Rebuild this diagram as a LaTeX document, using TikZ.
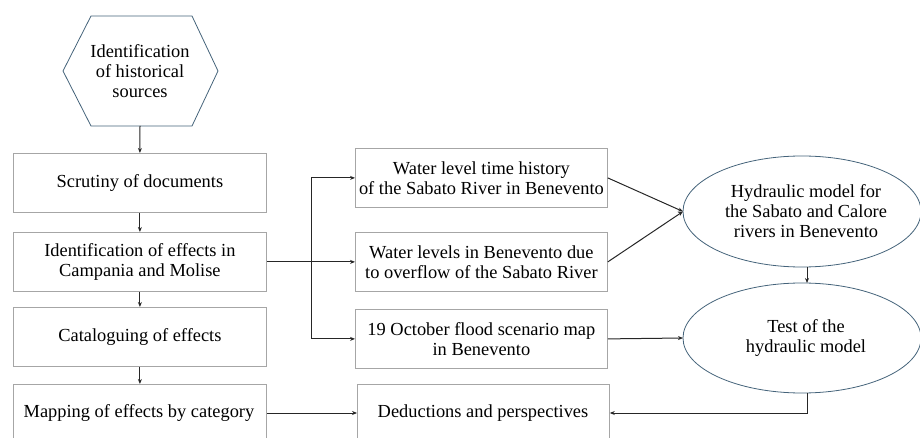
\documentclass[tikz,border=0pt]{standalone}
\usepackage{fontspec}
\setmainfont{Liberation Serif}
\usetikzlibrary{arrows.meta}
\definecolor{boxgray}{HTML}{A6A6A6}
\definecolor{slate}{HTML}{44637A}
\definecolor{linec}{HTML}{262626}
\begin{document}
\begin{tikzpicture}[x=1pt,y=-1pt,
  txt/.style={align=center,font=\fontsize{18.4}{20}\selectfont,text=black},
  rbox/.style={draw=boxgray,line width=0.8pt,fill=white,inner sep=0pt},
  oval/.style={draw=slate,line width=0.8pt},
  conn/.style={draw=linec,line width=1pt,-{Stealth[length=5pt,width=4pt]}},
  plain/.style={draw=linec,line width=1pt}]
\useasboundingbox (0,0) rectangle (920,438);
% hexagon
\draw[oval] (63,71) -- (91,16) -- (192,16) -- (218,71) -- (192,126) -- (91,126) -- cycle;
\node[txt] (hex) at (140,71) {Identification\\of historical\\sources};
\coordinate (hexb) at (140,126);
% left column
\node[rbox,minimum width=253pt,minimum height=59pt,anchor=north west] (b1) at (13,153) {};
\node[txt] at (b1.center) {Scrutiny of documents};
\node[rbox,minimum width=253pt,minimum height=59pt,anchor=north west] (b2) at (13,232) {};
\node[txt] at (b2.center) {Identification of effects in\\Campania and Molise};
\node[rbox,minimum width=253pt,minimum height=59pt,anchor=north west] (b3) at (13,307) {};
\node[txt] at (b3.center) {Cataloguing of effects};
\node[rbox,minimum width=253pt,minimum height=59pt,anchor=north west] (b4) at (13,384) {};
\node[txt] at (139,413) {Mapping of effects by category};
% middle column
\node[rbox,minimum width=252pt,minimum height=59pt,anchor=north west] (m1) at (355,148) {};
\node[txt] at (m1.center) {Water level time history\\of the Sabato River in Benevento};
\node[rbox,minimum width=252pt,minimum height=59pt,anchor=north west] (m2) at (355,232) {};
\node[txt] at (m2.center) {Water levels in Benevento due\\to overflow of the Sabato River};
\node[rbox,minimum width=252pt,minimum height=59pt,anchor=north west] (m3) at (355,309) {};
\node[txt] at (m3.center) {19 October flood scenario map\\in Benevento};
\node[rbox,minimum width=252pt,minimum height=59pt,anchor=north west] (m4) at (357,384) {};
\node[txt] at (483,413) {Deductions and perspectives};
% ellipses
\draw[oval] (802,211.5) ellipse [x radius=119, y radius=55.5];
\node[txt] (e1) at (806,211.5) {Hydraulic model for\\the Sabato and Calore\\rivers in Benevento};
\draw[oval] (802,338) ellipse [x radius=119, y radius=55];
\node[txt] (e2) at (806,338) {Test of the\\hydraulic model};
\coordinate (e1l) at (683,211.5);
\coordinate (e1b) at (807,267);
\coordinate (e2t) at (807,283);
\coordinate (e2l) at (683,338);
\coordinate (e2b) at (807,393);
% connectors
\draw[conn] (hexb) -- (b1.north);
\draw[conn] (b1.south) -- (b2.north);
\draw[conn] (b2.south) -- (b3.north);
\draw[conn] (b3.south) -- (b4.north);
\draw[conn] (b2.east) -- (m2.west);
\coordinate (br) at (311,262);
\draw[conn] (br) |- (m1.west);
\draw[conn] (br) |- (m3.west);
\draw[conn] (b4.east |- 0,413) -- (m4.west |- 0,413);
\draw[conn] (m1.east) -- (e1l);
\draw[conn] (m2.east) -- (e1l);
\draw[conn] (m3.east) -- (e2l);
\draw[conn] (e1b) -- (e2t);
\draw[conn] (e2b) |- (m4.east |- 0,413);
\end{tikzpicture}
\end{document}
